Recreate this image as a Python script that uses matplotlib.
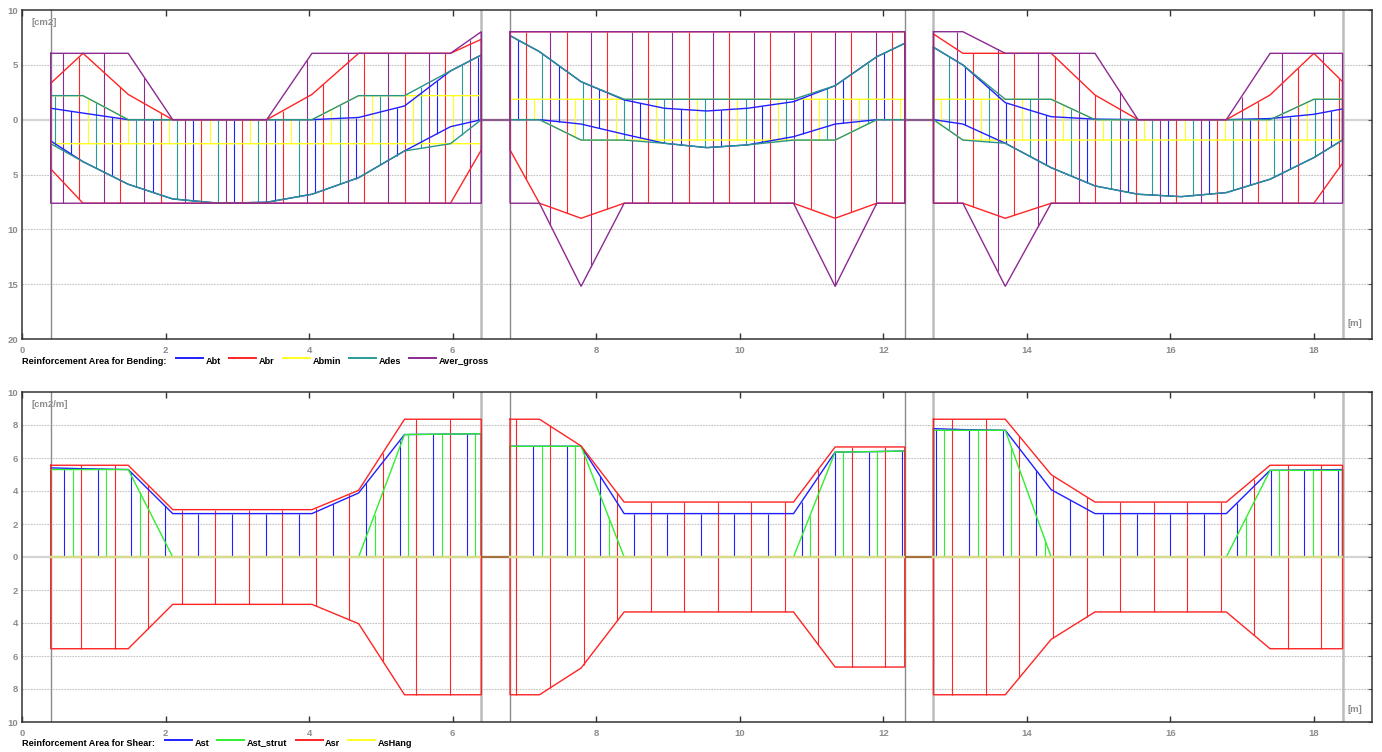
import numpy as np
import matplotlib.pyplot as plt
from matplotlib.lines import Line2D

plt.rcParams['font.family'] = ['Liberation Sans', 'DejaVu Sans']
plt.rcParams['font.weight'] = 'bold'

W, H = 1382, 752

# supports and section stations per span [m]
supports = [0.4, 6.4, 6.8, 12.3, 12.7, 18.4]
stations = [
    [0.4, 0.85, 1.48, 2.1, 2.75, 3.41, 4.04, 4.69, 5.33, 5.97, 6.4],
    [6.8, 7.21, 7.79, 8.39, 8.95, 9.54, 10.11, 10.75, 11.33, 11.91, 12.3],
    [12.7, 13.11, 13.7, 14.34, 14.95, 15.55, 16.15, 16.78, 17.39, 18.0, 18.4],
]

# bending reinforcement [cm2]; top side (+) and bottom side (-) per span
abt_top = [[1.04, 0.6, 0, 0, 0, 0, 0, 0.2, 1.25, 4.44, 5.9],
           [7.66, 6.2, 3.46, 1.8, 1.04, 0.79, 1.04, 1.64, 3.1, 5.74, 6.96],
           [6.6, 4.99, 1.55, 0.27, 0.05, 0, 0, 0, 0.1, 0.49, 0.98]]
abt_bot = [[-1.94, -3.83, -5.89, -7.23, -7.62, -7.53, -6.8, -5.29, -2.85, -0.64, 0],
           [0, 0, -0.4, -1.33, -2.15, -2.55, -2.3, -1.55, -0.4, 0, 0],
           [0, -0.4, -2.15, -4.38, -6.04, -6.8, -7.02, -6.65, -5.43, -3.46, -1.85]]
abr_top = [[3.32, 6.05, 2.3, 0, 0, 0, 2.3, 6.05, 6.05, 6.05, 7.33],
           [8.02, 8.02, 8.02, 8.02, 8.02, 8.02, 8.02, 8.02, 8.02, 8.02, 8.02],
           [7.81, 6.05, 6.05, 6.05, 2.25, 0, 0, 0, 2.25, 6.05, 3.46]]
abr_bot = [[-4.49, -7.62, -7.62, -7.62, -7.62, -7.62, -7.62, -7.62, -7.62, -7.62, -2.76],
           [-2.76, -7.62, -8.99, -7.62, -7.62, -7.62, -7.62, -7.62, -8.99, -7.62, -7.62],
           [-7.62, -7.62, -8.99, -7.62, -7.62, -7.62, -7.62, -7.62, -7.62, -7.62, -3.97]]
abmin_top = [[2.19, 2.19, 0, 0, 0, 0, 0, 2.19, 2.19, 2.19, 2.19],
             [1.86, 1.86, 1.86, 1.86, 1.86, 1.86, 1.86, 1.86, 1.86, 1.86, 1.86],
             [1.86, 1.86, 1.86, 1.86, 0, 0, 0, 0, 0, 1.86, 1.86]]
abmin_bot = [[-2.19, -2.19, -2.19, -2.19, -2.19, -2.19, -2.19, -2.19, -2.19, -2.19, -2.19],
             [0, 0, -1.86, -1.86, -1.86, -1.86, -1.86, -1.86, -1.86, 0, 0],
             [0, -1.86, -1.86, -1.86, -1.86, -1.86, -1.86, -1.86, -1.86, -1.86, -1.86]]
ades_top = [[2.19, 2.19, 0, 0, 0, 0, 0, 2.19, 2.19, 4.44, 5.9],
            [7.66, 6.2, 3.46, 1.86, 1.86, 1.86, 1.86, 1.86, 3.1, 5.74, 6.96],
            [6.6, 4.99, 1.86, 1.86, 0, 0, 0, 0, 0, 1.86, 1.86]]
ades_bot = [[-2.19, -3.83, -5.89, -7.23, -7.62, -7.53, -6.8, -5.29, -2.85, -2.19, 0],
            [0, 0, -1.86, -1.86, -2.15, -2.55, -2.3, -1.86, -1.86, 0, 0],
            [0, -1.86, -2.15, -4.38, -6.04, -6.8, -7.02, -6.65, -5.43, -3.46, -1.86]]
aver_top = [[6.05, 6.05, 6.05, 0, 0, 0, 6.05, 6.05, 6.05, 6.05, 8.02],
            [8.02, 8.02, 8.02, 8.02, 8.02, 8.02, 8.02, 8.02, 8.02, 8.02, 8.02],
            [8.02, 8.02, 6.05, 6.05, 6.05, 0, 0, 0, 6.05, 6.05, 6.05]]
aver_bot = [[-7.62, -7.62, -7.62, -7.62, -7.62, -7.62, -7.62, -7.62, -7.62, -7.62, -7.62],
            [-7.62, -7.62, -15.2, -7.62, -7.62, -7.62, -7.62, -7.62, -15.2, -7.62, -7.62],
            [-7.62, -7.62, -15.2, -7.62, -7.62, -7.62, -7.62, -7.62, -7.62, -7.62, -7.62]]

# shear reinforcement [cm2/m]
ast = [[5.4, 5.35, 5.3, 2.63, 2.63, 2.63, 2.63, 3.88, 7.42, 7.45, 7.47],
       [6.71, 6.71, 6.71, 2.63, 2.63, 2.63, 2.63, 2.63, 6.36, 6.39, 6.42],
       [7.78, 7.72, 7.68, 4.08, 2.63, 2.63, 2.63, 2.63, 5.25, 5.28, 5.3]]
ast_strut = [[5.3, 5.3, 5.3, 0, 0, 0, 0, 0, 7.42, 7.45, 7.47],
             [6.71, 6.71, 6.71, 0, 0, 0, 0, 0, 6.36, 6.39, 6.42],
             [7.68, 7.68, 7.68, 0, 0, 0, 0, 0, 5.25, 5.25, 5.25]]
asr = [[5.56, 5.56, 5.56, 2.87, 2.87, 2.87, 2.87, 4.04, 8.35, 8.35, 8.35],
       [8.35, 8.35, 6.73, 3.33, 3.33, 3.33, 3.33, 3.33, 6.67, 6.67, 6.67],
       [8.35, 8.35, 8.35, 4.99, 3.33, 3.33, 3.33, 3.33, 5.56, 5.56, 5.56]]
ashang = [[0] * 11, [0] * 11, [0] * 11]

bend_names = ['Abt', 'Abr', 'Abmin', 'Ades', 'Aver_gross']
bend_colors = ['#2020ff', '#ff2424', '#ffff1e', '#2a9a96', '#8c2a92']
bend_top = [abt_top, abr_top, abmin_top, ades_top, aver_top]
bend_bot = [abt_bot, abr_bot, abmin_bot, ades_bot, aver_bot]

shear_names = ['Ast', 'Ast_strut', 'Asr', 'AsHang']
shear_colors = ['#2020ff', '#30ee30', '#ff2424', '#ffff1e']
shear_top = [ast, ast_strut, asr, ashang]
shear_bot = [[[0] * 11] * 3, [[0] * 11] * 3,
             [[-v for v in s] for s in asr], ashang]

fig = plt.figure(figsize=(W / 100, H / 100), dpi=100)
ax1 = fig.add_axes([22 / W, 1 - 339 / H, 1350 / W, 329 / H])
ax2 = fig.add_axes([22 / W, 1 - 722 / H, 1350 / W, 330 / H])


def style(ax, ylim, yticks, unit, unit_y, m_y):
    ax.set_xlim(0, 18.81)
    ax.set_ylim(*ylim)
    ax.set_xticks(np.arange(0, 19, 2))
    ax.set_yticks(yticks)
    ax.set_yticklabels([f'{abs(v):g}' for v in yticks])
    ax.tick_params(axis='x', direction='in', top=True, length=4, width=1,
                   color='#333333', labelsize=6.8, labelcolor='#8c8c8c', pad=5)
    ax.tick_params(axis='y', direction='in', left=False, right=True, length=3,
                   color='#555555', labelsize=6.8, labelcolor='#8c8c8c', pad=3)
    for s in ax.spines.values():
        s.set_color('#333333')
        s.set_linewidth(1.1)
    for v in yticks[1:-1]:
        if v == 0:
            ax.axhline(v, color='#d4d4d4', lw=1.6, zorder=0)
        else:
            ax.axhline(v, color='#c4c4c4', lw=0.8, ls=(0, (1.5, 1)), zorder=0)
    sup_col = ['#8a8a8a', '#bcbcbc', '#8a8a8a', '#8a8a8a', '#bcbcbc', '#bcbcbc']
    sup_lw = [1.0, 1.8, 1.0, 1.0, 1.8, 1.8]
    for s, c, w in zip(supports, sup_col, sup_lw):
        ax.axvline(s, color=c, lw=w, zorder=1)
    ax.text(0.0074, unit_y, unit, transform=ax.transAxes, fontsize=6.8,
            color='#8c8c8c', ha='left', va='center')
    ax.text(0.9926, m_y, '[m]', transform=ax.transAxes, fontsize=6.8,
            color='#8c8c8c', ha='right', va='center')


def draw(ax, tops, bots, colors, order, step, starts, firsts, gap_color,
         line_colors, widths):
    n = len(tops)
    # gaps between spans
    for a, b in [(supports[1], supports[2]), (supports[3], supports[4])]:
        ax.plot([a, b], [0, 0], color=gap_color, lw=1.6, zorder=2)
    for k, xs in enumerate(stations):
        xs = np.array(xs)
        pos = np.arange(starts[k], xs[-1] - 0.01, step)
        for j, p in enumerate(pos):
            i = (firsts[k] + j) % n
            t = np.interp(p, xs, tops[i][k])
            b = np.interp(p, xs, bots[i][k])
            if t - b > 0.01:
                ax.vlines(p, b, t, color=colors[i], lw=0.8, zorder=2)
        for i in order:
            top = np.array(tops[i][k], float)
            bot = np.array(bots[i][k], float)
            x = np.r_[xs, xs[::-1], xs[:1]]
            y = np.r_[top, bot[::-1], top[:1]]
            ax.plot(x, y, color=line_colors[i], lw=widths[i], zorder=3,
                    solid_joinstyle='miter')


style(ax1, (-20, 10), [10, 5, 0, -5, -10, -15, -20], '[cm2]', 0.961, 0.0477)
draw(ax1, bend_top, bend_bot, bend_colors, [2, 0, 3, 1, 4], 0.1133,
     [0.46, 6.91, 12.80], [3, 0, 2], '#8a5c8a',
     ['#2020ff', '#ff2424', '#ffff1e', '#2a9488', '#8c2a92'], [1, 1, 1, 1, 1])

style(ax2, (-10, 10), [10, 8, 6, 4, 2, 0, -2, -4, -6, -8, -10], '[cm2/m]', 0.9636, 0.0385)
draw(ax2, shear_top, shear_bot, shear_colors, [0, 1, 2, 3], 0.1168,
     [0.59, 6.89, 12.73], [0, 2, 0], '#a8703c',
     ['#2020ff', '#30ee30', '#ff2424', '#d6dc8c'], [1, 1, 1, 1.6])


def legend(y, title, names, colors, line_x, text_x):
    fig.text(22 / W, 1 - y / H, title, fontsize=6.6, ha='left', va='center')
    for nm, c, lx, tx in zip(names, colors, line_x, text_x):
        fig.add_artist(Line2D([lx / W, (lx + 27) / W], [1 - (y - 3) / H] * 2,
                              color=c, lw=1.4, transform=fig.transFigure))
        fig.text(tx / W, 1 - y / H, nm, fontsize=6.6, ha='left', va='center')


legend(361, 'Reinforcement Area for Bending:', bend_names, bend_colors,
       [176, 229, 283, 349, 409], [206, 259, 313, 379, 439])
legend(743, 'Reinforcement Area for Shear:', shear_names, shear_colors,
       [165, 217, 296, 348], [195, 247, 325, 378])

fig.savefig('out.png', dpi=100)
